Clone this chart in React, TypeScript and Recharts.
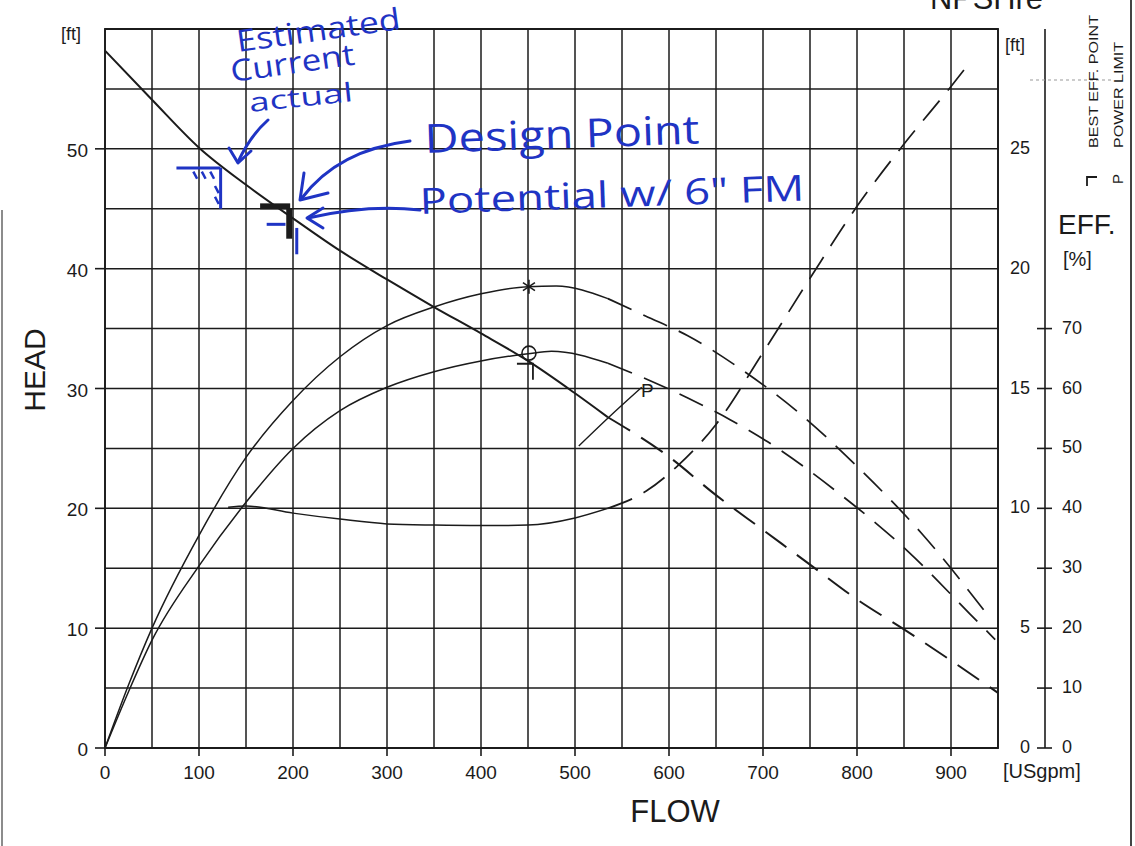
import React from 'react';
import {
  ComposedChart,
  Line,
  XAxis,
  YAxis,
  CartesianGrid,
  ReferenceArea,
  ReferenceLine,
  ReferenceDot,
} from 'recharts';

// flow [USgpm] -> head [ft]
const HEAD_CURVE = [
  { flow: 0, head: 58.2 },
  { flow: 50, head: 54.1 },
  { flow: 100, head: 50.1 },
  { flow: 150, head: 47.0 },
  { flow: 200, head: 44.2 },
  { flow: 250, head: 41.5 },
  { flow: 300, head: 39.1 },
  { flow: 350, head: 36.8 },
  { flow: 400, head: 34.6 },
  { flow: 450, head: 32.3 },
  { flow: 500, head: 29.6 },
  { flow: 535, head: 27.6 },
  { flow: 600, head: 24.3 },
  { flow: 650, head: 21.1 },
  { flow: 700, head: 18.2 },
  { flow: 750, head: 15.3 },
  { flow: 800, head: 12.4 },
  { flow: 850, head: 9.9 },
  { flow: 900, head: 7.3 },
  { flow: 950, head: 4.6 },
];

// hydraulic efficiency [%] (curve with the * mark)
const EFF_UPPER = [
  { flow: 0, eff: 0 },
  { flow: 25, eff: 10.5 },
  { flow: 50, eff: 20 },
  { flow: 100, eff: 35.5 },
  { flow: 150, eff: 48.5 },
  { flow: 200, eff: 58 },
  { flow: 250, eff: 65.3 },
  { flow: 300, eff: 70.5 },
  { flow: 350, eff: 73.6 },
  { flow: 400, eff: 75.8 },
  { flow: 450, eff: 77 },
  { flow: 480, eff: 77.1 },
  { flow: 535, eff: 75 },
  { flow: 575, eff: 72.1 },
  { flow: 620, eff: 68.8 },
  { flow: 675, eff: 63.4 },
  { flow: 740, eff: 55.7 },
  { flow: 800, eff: 47 },
  { flow: 870, eff: 35.6 },
  { flow: 940, eff: 22 },
];

// total efficiency [%] (curve with the O mark)
const EFF_LOWER = [
  { flow: 0, eff: 0 },
  { flow: 25, eff: 9.4 },
  { flow: 50, eff: 18 },
  { flow: 100, eff: 30.4 },
  { flow: 150, eff: 41 },
  { flow: 200, eff: 50 },
  { flow: 250, eff: 56.3 },
  { flow: 300, eff: 60.2 },
  { flow: 350, eff: 62.8 },
  { flow: 400, eff: 64.6 },
  { flow: 450, eff: 65.8 },
  { flow: 475, eff: 66.2 },
  { flow: 535, eff: 64.2 },
  { flow: 580, eff: 61.3 },
  { flow: 620, eff: 58.4 },
  { flow: 665, eff: 54.8 },
  { flow: 705, eff: 51.1 },
  { flow: 780, eff: 42.6 },
  { flow: 855, eff: 32.7 },
  { flow: 920, eff: 22.4 },
  { flow: 947, eff: 18.1 },
];

// NPSHre [ft]
const NPSH_CURVE = [
  { flow: 131, npsh: 10.05 },
  { flow: 150, npsh: 10.1 },
  { flow: 200, npsh: 9.8 },
  { flow: 250, npsh: 9.55 },
  { flow: 300, npsh: 9.35 },
  { flow: 350, npsh: 9.3 },
  { flow: 400, npsh: 9.28 },
  { flow: 450, npsh: 9.3 },
  { flow: 500, npsh: 9.6 },
  { flow: 535, npsh: 10.0 },
  { flow: 575, npsh: 10.7 },
  { flow: 610, npsh: 11.8 },
  { flow: 650, npsh: 13.5 },
  { flow: 700, npsh: 16.5 },
  { flow: 750, npsh: 19.6 },
  { flow: 800, npsh: 22.6 },
  { flow: 850, npsh: 25.2 },
  { flow: 900, npsh: 27.6 },
  { flow: 920, npsh: 28.6 },
];

// power limit indicator, on the head scale
const POWER_LIMIT = [
  { flow: 504, head: 25.2 },
  { flow: 536, head: 27.6 },
  { flow: 571, head: 30.1 },
];

const SOLID_END = 535;

const BEP = { flow: 451, head: 32.4, effUpper: 77, effLower: 65.9 };
const POWER_MARK = { flow: 577, head: 29.9 };

// hand drawn marks (flow, head)
const ESTIMATED_MARK = [
  [{ x: 76, y: 48.4 }, { x: 123, y: 48.4 }],
  [{ x: 123, y: 48.4 }, { x: 123, y: 45.0 }],
];
const HATCH_MARK = [
  [{ x: 94, y: 48.1 }, { x: 98, y: 47.5 }],
  [{ x: 103, y: 48.1 }, { x: 107, y: 47.5 }],
  [{ x: 112, y: 48.1 }, { x: 116, y: 47.5 }],
  [{ x: 117, y: 46.9 }, { x: 121, y: 46.3 }],
  [{ x: 117, y: 46.0 }, { x: 121, y: 45.4 }],
];
const DUTY_MARK = [
  [{ x: 165, y: 45.2 }, { x: 197, y: 45.2 }],
  [{ x: 196, y: 45.0 }, { x: 196, y: 42.5 }],
];
const POTENTIAL_MARK = [
  [{ x: 172, y: 43.7 }, { x: 192, y: 43.7 }],
  [{ x: 204, y: 43.4 }, { x: 204, y: 41.2 }],
];

const FLOW_TICKS = [0, 50, 100, 150, 200, 250, 300, 350, 400, 450, 500, 550, 600, 650, 700, 750, 800, 850, 900, 950];
const HEAD_TICKS = [0, 5, 10, 15, 20, 25, 30, 35, 40, 45, 50, 55, 60];
const NPSH_TICKS = [0, 5, 10, 15, 20, 25];
const EFF_TICKS = [0, 10, 20, 30, 40, 50, 60, 70];

const FONT = '"Liberation Sans", Arial, sans-serif';
const HAND = '"Open Sans", "Noto Sans", sans-serif';
const INK = '#1b1b1b';
const PEN = '#1f34c4';
const DASH = '26 13';

const solid = <T extends { flow: number }>(arr: T[]) => arr.filter(p => p.flow <= SOLID_END);
const dashed = <T extends { flow: number }>(arr: T[]) => arr.filter(p => p.flow >= SOLID_END);

const FlowTick = ({ x, y, payload }: any) => {
  const v = payload.value;
  if (v % 100 !== 0 || v > 900) return <g />;
  return (
    <g>
      <line x1={x} x2={x} y1={y} y2={y + 8} stroke={INK} strokeWidth={1.6} />
      <text x={x} y={y + 31} textAnchor="middle" fontFamily={FONT} fontSize={19} fill={INK}>{v}</text>
    </g>
  );
};

const HeadTick = ({ x, y, payload }: any) => {
  const v = payload.value;
  if (v % 10 !== 0 || v > 50) return <g />;
  return (
    <g>
      <line x1={x - 10} x2={x} y1={y} y2={y} stroke={INK} strokeWidth={1.6} />
      <text x={x - 17} y={y + 8} textAnchor="end" fontFamily={FONT} fontSize={19} fill={INK}>{v}</text>
    </g>
  );
};

const NpshTick = ({ x, y, payload }: any) => (
  <text x={x + 32} y={y + 5} textAnchor="end" fontFamily={FONT} fontSize={18} fill={INK}>{payload.value}</text>
);

const EffTick = ({ x, y, payload }: any) => (
  <g>
    <line x1={x - 8} x2={x + 7} y1={y} y2={y} stroke={INK} strokeWidth={1.6} />
    <text x={x + 17} y={y + 5} textAnchor="start" fontFamily={FONT} fontSize={18} fill={INK}>{payload.value}</text>
  </g>
);

const Asterisk = ({ cx, cy }: any) => (
  <g stroke={INK} strokeWidth={1.6}>
    <line x1={cx} x2={cx} y1={cy - 7} y2={cy + 7} />
    <line x1={cx - 6} x2={cx + 6} y1={cy - 4} y2={cy + 4} />
    <line x1={cx - 6} x2={cx + 6} y1={cy + 4} y2={cy - 4} />
  </g>
);

const Ring = ({ cx, cy }: any) => (
  <circle cx={cx} cy={cy} r={7} fill="none" stroke={INK} strokeWidth={1.6} />
);

const BepCorner = ({ cx, cy }: any) => (
  <g stroke={INK} strokeWidth={1.8} fill="none">
    <path d={`M${cx - 12},${cy + 4} L${cx + 4},${cy + 4} L${cx + 4},${cy + 20}`} />
  </g>
);

const PowerLabel = ({ cx, cy }: any) => (
  <text x={cx} y={cy + 7} textAnchor="middle" fontFamily={FONT} fontSize={19} fill={INK}>P</text>
);

const segs = (list: { x: number; y: number }[][], color: string, width: number, key: string) =>
  list.map((s, i) => (
    <ReferenceLine
      key={`${key}-${i}`}
      yAxisId="head"
      segment={s}
      stroke={color}
      strokeWidth={width}
      ifOverflow="visible"
    />
  ));

const App: React.FC = () => {
  return (
    <div style={{ position: 'absolute', left: 0, top: 0, width: 1135, height: 846, background: '#fff' }}>
      <ComposedChart width={1135} height={846} margin={{ top: 29, right: 38, bottom: 38, left: 0 }}>
        <CartesianGrid yAxisId="head" stroke={INK} strokeWidth={1.5} />
        <XAxis
          dataKey="flow"
          type="number"
          domain={[0, 950]}
          ticks={FLOW_TICKS}
          interval={0}
          height={60}
          tickSize={0}
          tickMargin={0}
          axisLine={false}
          tick={FlowTick}
        />
        <YAxis
          yAxisId="head"
          type="number"
          domain={[0, 60]}
          ticks={HEAD_TICKS}
          interval={0}
          width={105}
          tickSize={0}
          tickMargin={0}
          axisLine={false}
          tick={HeadTick}
        />
        <YAxis
          yAxisId="r2"
          orientation="right"
          type="number"
          domain={[0, 120]}
          ticks={EFF_TICKS}
          interval={0}
          width={52}
          tickSize={0}
          tickMargin={0}
          axisLine={{ stroke: INK, strokeWidth: 1.6 }}
          tick={EffTick}
        />
        <YAxis
          yAxisId="r1"
          orientation="right"
          type="number"
          domain={[0, 30]}
          ticks={NPSH_TICKS}
          interval={0}
          width={47}
          tickSize={0}
          tickMargin={0}
          axisLine={false}
          tick={NpshTick}
        />
        <ReferenceArea
          yAxisId="head"
          x1={0}
          x2={950}
          y1={0}
          y2={60}
          fill="none"
          stroke={INK}
          strokeWidth={1.8}
          ifOverflow="visible"
        />

        <Line yAxisId="head" data={solid(HEAD_CURVE)} dataKey="head" type="monotone" stroke={INK} strokeWidth={2} dot={false} isAnimationActive={false} />
        <Line yAxisId="head" data={dashed(HEAD_CURVE)} dataKey="head" type="monotone" stroke={INK} strokeWidth={2} strokeDasharray={DASH} dot={false} isAnimationActive={false} />

        <Line yAxisId="r2" data={solid(EFF_UPPER)} dataKey="eff" type="monotone" stroke={INK} strokeWidth={1.5} dot={false} isAnimationActive={false} />
        <Line yAxisId="r2" data={dashed(EFF_UPPER)} dataKey="eff" type="monotone" stroke={INK} strokeWidth={1.7} strokeDasharray={DASH} dot={false} isAnimationActive={false} />

        <Line yAxisId="r2" data={solid(EFF_LOWER)} dataKey="eff" type="monotone" stroke={INK} strokeWidth={1.5} dot={false} isAnimationActive={false} />
        <Line yAxisId="r2" data={dashed(EFF_LOWER)} dataKey="eff" type="monotone" stroke={INK} strokeWidth={1.7} strokeDasharray={DASH} dot={false} isAnimationActive={false} />

        <Line yAxisId="r1" data={solid(NPSH_CURVE)} dataKey="npsh" type="monotone" stroke={INK} strokeWidth={1.5} dot={false} isAnimationActive={false} />
        <Line yAxisId="r1" data={dashed(NPSH_CURVE)} dataKey="npsh" type="monotone" stroke={INK} strokeWidth={1.7} strokeDasharray={DASH} dot={false} isAnimationActive={false} />

        <Line yAxisId="head" data={POWER_LIMIT} dataKey="head" type="monotone" stroke={INK} strokeWidth={1.4} dot={false} isAnimationActive={false} />

        <ReferenceDot yAxisId="r2" x={BEP.flow} y={BEP.effUpper} shape={Asterisk} ifOverflow="visible" />
        <ReferenceDot yAxisId="r2" x={BEP.flow} y={BEP.effLower} shape={Ring} ifOverflow="visible" />
        <ReferenceDot yAxisId="head" x={BEP.flow} y={BEP.head} shape={BepCorner} ifOverflow="visible" />
        <ReferenceDot yAxisId="head" x={POWER_MARK.flow} y={POWER_MARK.head} shape={PowerLabel} ifOverflow="visible" />

        {segs(DUTY_MARK, INK, 6, 'duty')}
        {segs(ESTIMATED_MARK, PEN, 3, 'est')}
        {segs(HATCH_MARK, PEN, 2.5, 'hatch')}
        {segs(POTENTIAL_MARK, PEN, 3, 'pot')}
      </ComposedChart>

      <svg
        width={1135}
        height={846}
        style={{ position: 'absolute', left: 0, top: 0, pointerEvents: 'none' }}
      >
        {/* page edges */}
        <line x1={1131} x2={1131} y1={0} y2={846} stroke="#444" strokeWidth={2} />
        <line x1={2} x2={2} y1={210} y2={846} stroke="#666" strokeWidth={1.5} />
        <line x1={1030} x2={1112} y1={80} y2={80} stroke="#999" strokeWidth={1} strokeDasharray="3 3" />

        {/* axis titles */}
        <text x={61} y={40} fontFamily={FONT} fontSize={18} fill={INK}>[ft]</text>
        <text x={1005} y={51} fontFamily={FONT} fontSize={18} fill={INK}>[ft]</text>
        <text x={1003} y={778} fontFamily={FONT} fontSize={20} fill={INK}>[USgpm]</text>
        <text x={675} y={822} textAnchor="middle" fontFamily={FONT} fontSize={31} fill={INK}>FLOW</text>
        <text transform="translate(45,370) rotate(-90)" textAnchor="middle" fontFamily={FONT} fontSize={30} fill={INK}>HEAD</text>
        <text x={1058} y={234} fontFamily={FONT} fontSize={28} fill={INK}>EFF.</text>
        <text x={1063} y={266} fontFamily={FONT} fontSize={20} fill={INK}>[%]</text>
        <text x={930} y={9} fontFamily={FONT} fontSize={31} fill={INK} textLength={113} lengthAdjust="spacingAndGlyphs">NPSHre</text>

        {/* legend for the marks */}
        <text transform="translate(1098,148) rotate(-90)" fontFamily={FONT} fontSize={13} fill={INK} textLength={133} lengthAdjust="spacingAndGlyphs">BEST EFF. POINT</text>
        <text transform="translate(1123,148) rotate(-90)" fontFamily={FONT} fontSize={13} fill={INK} textLength={106} lengthAdjust="spacingAndGlyphs">POWER LIMIT</text>
        <path d="M1087,186 L1087,177 L1097,177" fill="none" stroke={INK} strokeWidth={1.8} />
        <text transform="translate(1123,184) rotate(-90)" fontFamily={FONT} fontSize={15} fill={INK}>P</text>

        {/* hand written notes */}
        <g fill={PEN} fontFamily={HAND}>
          <text transform="translate(238,52) rotate(-8)" fontSize={30} textLength={165} lengthAdjust="spacingAndGlyphs">Estimated</text>
          <text transform="translate(232,82) rotate(-8)" fontSize={30} textLength={125} lengthAdjust="spacingAndGlyphs">Current</text>
          <text transform="translate(250,112) rotate(-6)" fontSize={26} textLength={104} lengthAdjust="spacingAndGlyphs">actual</text>
          <text transform="translate(425,153) rotate(-2)" fontSize={40} textLength={275} lengthAdjust="spacingAndGlyphs">Design Point</text>
          <text transform="translate(420,214) rotate(-2)" fontSize={36} textLength={385} lengthAdjust="spacingAndGlyphs">Potential w/ 6" FM</text>
        </g>
        <g stroke={PEN} strokeWidth={3} fill="none" strokeLinecap="round" strokeLinejoin="round">
          <path d="M268,120 Q250,136 238,162" />
          <path d="M229,148 L238,163 L251,151" />
          <path d="M410,141 Q338,150 302,198" />
          <path d="M304,173 L300,200 L328,193" />
          <path d="M420,210 Q368,204 308,218" />
          <path d="M323,208 L307,218 L323,228" />
        </g>
      </svg>
    </div>
  );
};

export default App;
